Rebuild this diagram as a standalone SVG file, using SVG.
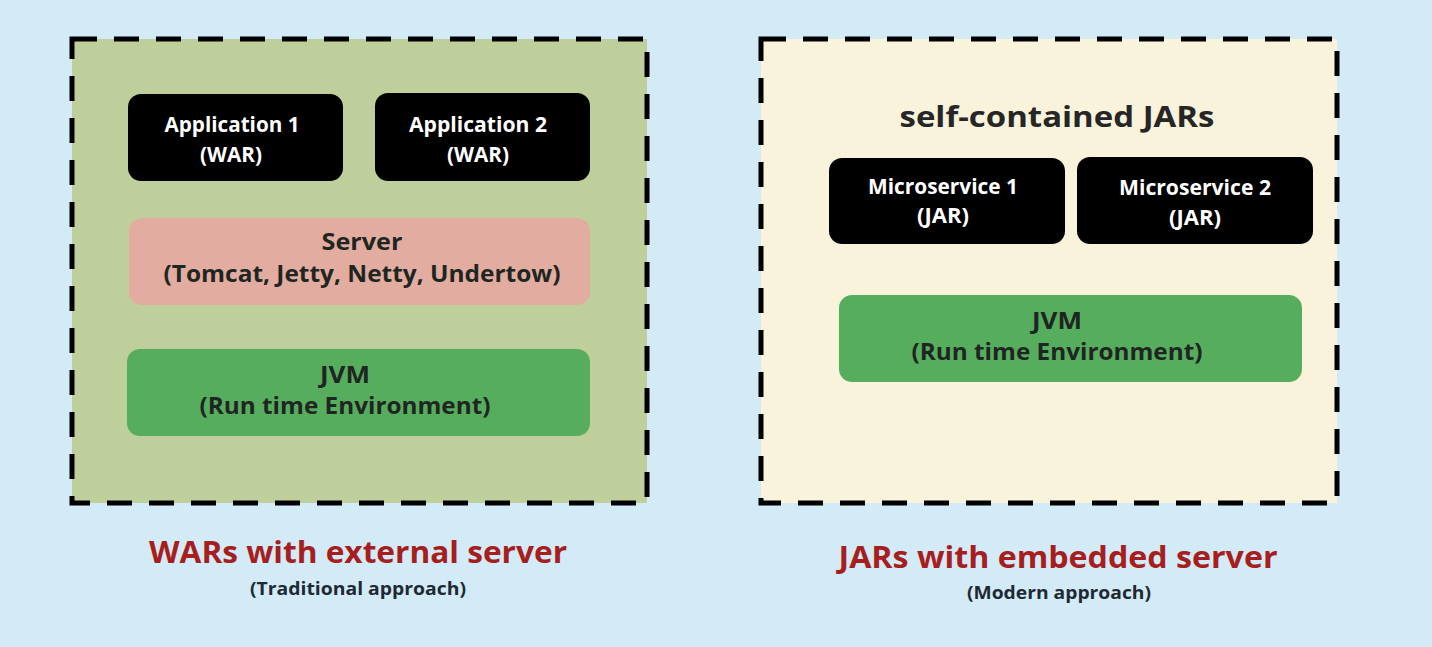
<svg xmlns="http://www.w3.org/2000/svg" width="1432" height="647" viewBox="0 0 1432 647">
<style>
.bg{fill:#d3eaf7}
.frame{stroke:#000;stroke-width:5;stroke-dasharray:25 17}
.app{fill:#000}
.srv{fill:#e2ada0}
.jvm{fill:#57ad5e}
text{font-family:"Open Sans","Noto Sans","DejaVu Sans",sans-serif;font-weight:700;text-anchor:middle}
.w{fill:#fff;font-size:21px}
.d{fill:#1f2622;font-size:23px;font-weight:700}
.h{fill:#262626;font-size:29px;font-weight:700}
.t{fill:#a61e1e;font-size:30px}
.s{fill:#1e2a33;font-size:18px;font-weight:700}
</style>
<rect class="bg" x="0" y="0" width="1432" height="647"/>
<g id="war-container">
<rect x="72" y="39" width="575" height="464" fill="#bfcf9b" class="frame"/>
</g>
<g id="jar-container">
<rect x="761" y="39" width="576" height="464" fill="#faf3dc" class="frame"/>
</g>
<g id="app1">
<rect class="app" x="128" y="94" width="215" height="87" rx="13"/>
<text class="w" x="232" y="132" textLength="135" lengthAdjust="spacingAndGlyphs">Application 1</text>
<text class="w" x="231" y="162" textLength="62" lengthAdjust="spacingAndGlyphs">(WAR)</text>
</g>
<g id="app2">
<rect class="app" x="375" y="93" width="215" height="88" rx="13"/>
<text class="w" x="478" y="132" textLength="138" lengthAdjust="spacingAndGlyphs">Application 2</text>
<text class="w" x="478" y="162" textLength="62" lengthAdjust="spacingAndGlyphs">(WAR)</text>
</g>
<g id="server">
<rect class="srv" x="129" y="218" width="461" height="87" rx="13"/>
<text class="d" x="362" y="250" textLength="81" lengthAdjust="spacingAndGlyphs">Server</text>
<text class="d" x="362" y="282" textLength="397" lengthAdjust="spacingAndGlyphs">(Tomcat, Jetty, Netty, Undertow)</text>
</g>
<g id="jvm-left">
<rect class="jvm" x="127" y="349" width="463" height="87" rx="13"/>
<text class="d" x="345" y="383" textLength="50" lengthAdjust="spacingAndGlyphs">JVM</text>
<text class="d" x="345" y="414" textLength="291" lengthAdjust="spacingAndGlyphs">(Run time Environment)</text>
</g>
<g id="label-jars">
<text class="h" x="1057" y="127" textLength="315" lengthAdjust="spacingAndGlyphs">self-contained JARs</text>
</g>
<g id="ms1">
<rect class="app" x="829" y="158" width="236" height="86" rx="13"/>
<text class="w" x="943" y="194" textLength="150" lengthAdjust="spacingAndGlyphs">Microservice 1</text>
<text class="w" x="943" y="223" textLength="52" lengthAdjust="spacingAndGlyphs">(JAR)</text>
</g>
<g id="ms2">
<rect class="app" x="1077" y="157" width="236" height="87" rx="13"/>
<text class="w" x="1195" y="195" textLength="152" lengthAdjust="spacingAndGlyphs">Microservice 2</text>
<text class="w" x="1195" y="225" textLength="52" lengthAdjust="spacingAndGlyphs">(JAR)</text>
</g>
<g id="jvm-right">
<rect class="jvm" x="839" y="295" width="463" height="87" rx="13"/>
<text class="d" x="1057" y="329" textLength="50" lengthAdjust="spacingAndGlyphs">JVM</text>
<text class="d" x="1057" y="360" textLength="291" lengthAdjust="spacingAndGlyphs">(Run time Environment)</text>
</g>
<g id="caption-left">
<text class="t" x="358" y="563" textLength="418" lengthAdjust="spacingAndGlyphs">WARs with external server</text>
<text class="s" x="358" y="595" textLength="216" lengthAdjust="spacingAndGlyphs">(Traditional approach)</text>
</g>
<g id="caption-right">
<text class="t" x="1058" y="568" textLength="439" lengthAdjust="spacingAndGlyphs">JARs with embedded server</text>
<text class="s" x="1059" y="599" textLength="184" lengthAdjust="spacingAndGlyphs">(Modern approach)</text>
</g>
<g id="connectors"/>
</svg>
